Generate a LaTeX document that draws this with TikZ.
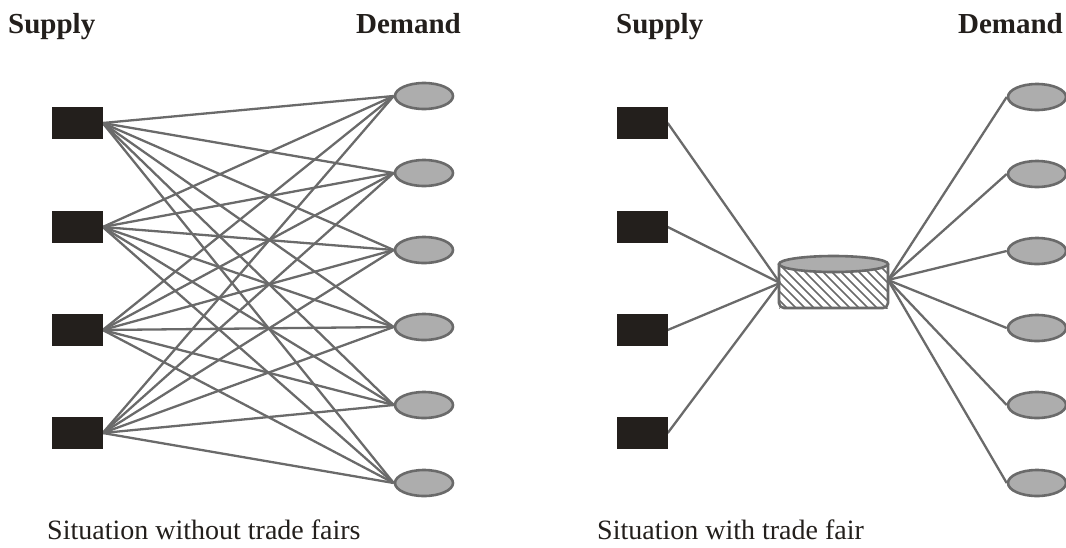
\documentclass[tikz,border=0pt]{standalone}
\usepackage{fontspec}
\setmainfont{Liberation Serif}
\usetikzlibrary{shapes.geometric,backgrounds}
\definecolor{boxdark}{HTML}{231F1C}
\definecolor{linkgray}{HTML}{6A6A6A}
\definecolor{ovalfill}{HTML}{ADADAD}
\definecolor{ovaledge}{HTML}{6A6A6A}
\tikzset{
  supplier/.style={rectangle, fill=boxdark, draw=none, minimum width=51pt, minimum height=32pt, inner sep=0pt},
  buyer/.style={ellipse, fill=ovalfill, draw=ovaledge, line width=2.6pt, minimum width=58pt, minimum height=26pt, inner sep=0pt},
  link/.style={draw=linkgray, line width=2.3pt},
  heading/.style={font=\fontsize{29}{34}\selectfont\bfseries, text=boxdark, inner sep=0pt},
  caption/.style={font=\fontsize{28}{34}\selectfont, text=boxdark, inner sep=0pt}
}
\begin{document}
\begin{tikzpicture}[x=1pt, y=-1pt]
\useasboundingbox (0,0) rectangle (1066,547);

% headings and captions
\node[heading, anchor=base west] (hs1) at (8,33) {Supply};
\node[heading, anchor=base east] (hd1) at (461,33) {Demand};
\node[heading, anchor=base west] (hs2) at (616,33) {Supply};
\node[heading, anchor=base east] (hd2) at (1063,33) {Demand};
\node[caption, anchor=base west] (c1) at (47,539) {Situation without trade fairs};
\node[caption, anchor=base west] (c2) at (597,539) {Situation with trade fair};

% left panel: every supplier linked to every buyer
\foreach \i/\y in {1/123,2/227,3/330,4/433}
  \node[supplier] (sa\i) at (77,\y) {};
\foreach \j/\y in {1/96,2/173,3/250,4/327,5/405,6/483}
  \node[buyer] (da\j) at (424,\y) {};
\begin{scope}[on background layer]
  \foreach \i in {1,...,4}
    \foreach \j in {1,...,6}
      \draw[link] (sa\i.east) -- (da\j.west);
\end{scope}

% right panel: all trade runs through the fair
\foreach \i/\y in {1/123,2/227,3/330,4/433}
  \node[supplier] (sb\i) at (642,\y) {};
\foreach \j/\y in {1/97,2/174,3/251,4/328,5/405,6/483}
  \node[buyer] (db\j) at (1037,\y) {};

\coordinate (fairIn) at (780,283);
\coordinate (fairOut) at (888,280);

\begin{scope}[on background layer]
  \foreach \i in {1,...,4}
    \draw[link] (sb\i.east) -- (fairIn);
  \foreach \j in {1,...,6}
    \draw[link] (fairOut) -- (db\j.west);
\end{scope}

% the trade fair drawn as a hatched cylinder
\begin{scope}
  \clip (779,264) rectangle (888,308);
  \foreach \k in {0,...,22}
    \draw[linkgray, line width=1.6pt] (720+9*\k,250) -- ++(65,65);
\end{scope}
\draw[ovaledge, line width=2.6pt, rounded corners=5pt]
  (779,264) -- (779,308) -- (888,308) -- (888,264);
\draw[ovaledge, fill=ovalfill, line width=2.6pt] (833.5,264) ellipse [x radius=54.5, y radius=8];
\end{tikzpicture}
\end{document}
